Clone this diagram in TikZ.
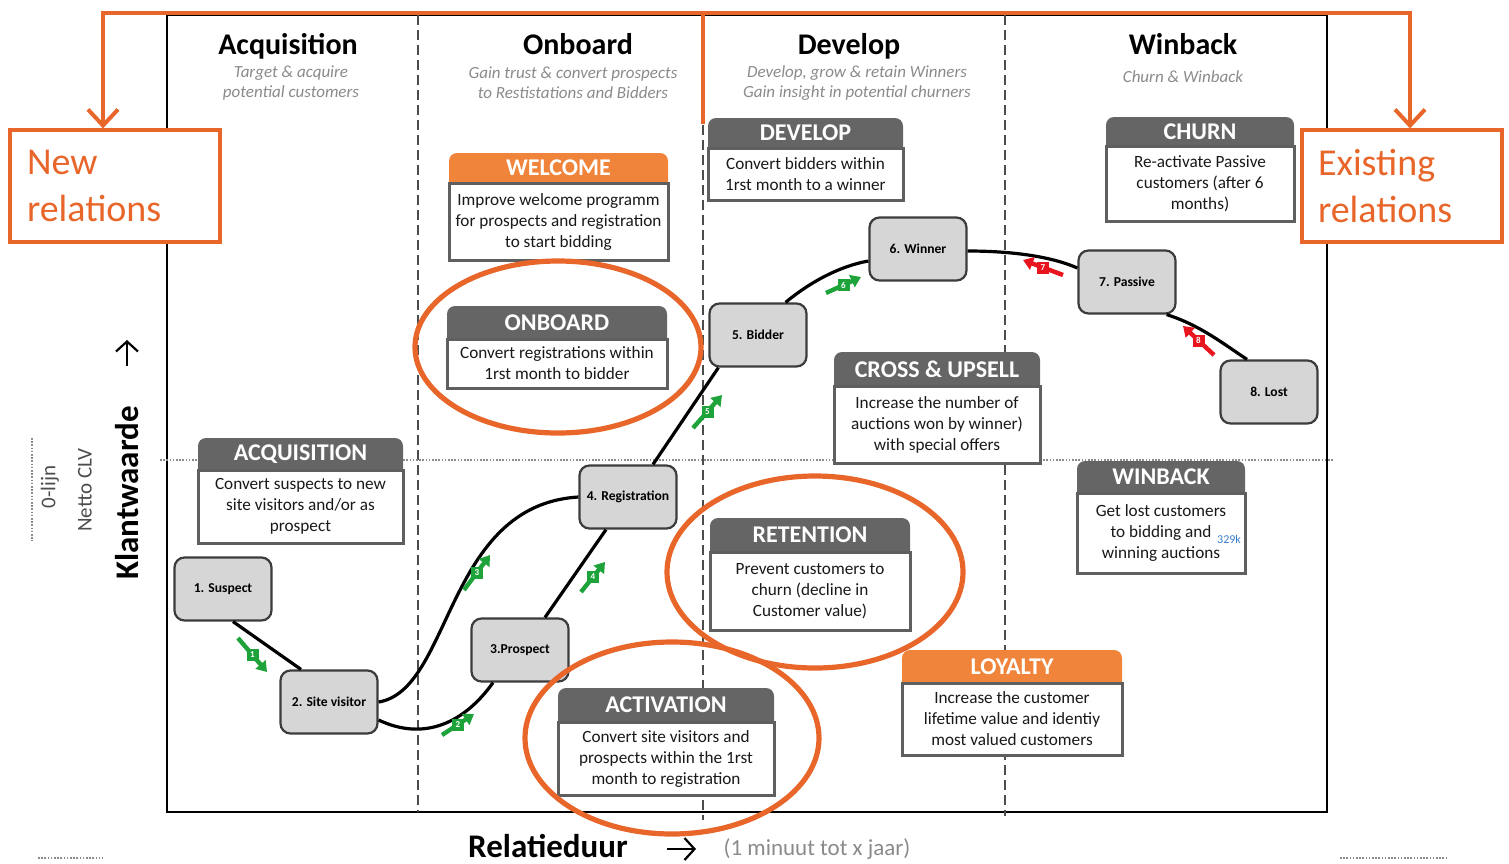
\documentclass[tikz,border=0pt]{standalone}
\usepackage{fontspec}
\setmainfont{Carlito}
\usetikzlibrary{arrows.meta,calc}

\definecolor{accent}{RGB}{232,102,42}
\definecolor{hdrorange}{RGB}{240,132,58}
\definecolor{hdrgray}{RGB}{101,101,101}
\definecolor{boxgray}{RGB}{95,95,95}
\definecolor{stagefill}{RGB}{214,214,214}
\definecolor{stageline}{RGB}{60,60,60}
\definecolor{subgray}{RGB}{138,138,138}
\definecolor{iconG}{RGB}{30,163,58}
\definecolor{iconR}{RGB}{232,20,30}
\definecolor{linkblue}{RGB}{58,127,208}

% activity box: name, x1, y-top, y-split, x2, y-bottom, header colour, title, body
\newcommand{\actbox}[9]{%
  \fill[#7, rounded corners=4pt] (#2,#3) rectangle (#5,#4+10);
  \node[hdrtxt] (#1-t) at ({(#2+#5)/2},{(#3+#4)/2}) {#8};
  \draw[bodybox] (#2,#4) rectangle (#5,#6);
  \node[bodytxt] (#1) at ({(#2+#5)/2},{(#4+#6)/2}) {#9};
}
% transition marker: name, x1, y1, x2, y2, colour, number
\newcommand{\stepmark}[7]{%
  \draw[marker, #6] (#2,#3) -- (#4,#5);
  \node[markerlab, fill=#6] (#1) at ({(#2+#4)/2},{(#3+#5)/2}) {#7};
}

\tikzset{
  frame/.style={line width=1pt, black},
  divider/.style={dash pattern=on 5pt off 2.5pt, line width=0.6pt, black!70},
  zeroline/.style={dash pattern=on 0.8pt off 0.8pt, line width=0.7pt, black!45},
  accentline/.style={draw=accent, line width=2pt},
  ring/.style={draw=accent, line width=2.6pt},
  relbox/.style={draw=accent, line width=1.6pt, fill=white, minimum width=105pt,
    minimum height=56pt, text width=88pt, align=left, inner sep=0pt,
    font=\fontsize{19}{23.5}\selectfont, text=accent},
  coltitle/.style={font=\fontsize{15}{18}\selectfont\bfseries, anchor=base},
  colsub/.style={font=\fontsize{8.5}{10}\selectfont\itshape, text=subgray, align=center},
  hdrtxt/.style={font=\fontsize{12}{14}\selectfont\bfseries, text=white, inner sep=0pt},
  bodytxt/.style={font=\fontsize{8.6}{10.5}\selectfont, align=center, text=black!90, inner sep=0pt},
  bodybox/.style={draw=boxgray, line width=1.5pt, fill=white},
  stage/.style={draw=stageline, fill=stagefill, line width=1.1pt, rounded corners=5pt,
    minimum width=48.5pt, minimum height=31.5pt,
    font=\fontsize{6.8}{8}\selectfont\bfseries, inner sep=1pt},
  curve/.style={line width=1.6pt, black},
  marker/.style={line width=2.2pt, -{Triangle[length=5pt,width=6.5pt]}},
  markerlab/.style={font=\fontsize{4.5}{5}\selectfont\bfseries, text=white,
    inner sep=0.6pt, minimum size=6pt},
  axislabel/.style={font=\fontsize{16.5}{19}\selectfont\bfseries},
  axisnote/.style={font=\fontsize{10.5}{12}\selectfont, text=black!70},
}

\begin{document}
\begin{tikzpicture}[x=0.5pt, y=-0.5pt]
\useasboundingbox (0,0) rectangle (1509,863);

% ---- chart frame, phase dividers, zero line
\draw[frame] (167,15) rectangle (1327,812);
\draw[divider] (418,15) -- (418,812);
\draw[divider] (703,125) -- (703,820);
\draw[divider] (1005,15) -- (1005,816);
\draw[zeroline] (160,460) -- (1333,460);

% ---- phase titles
\node[coltitle] (ph1) at (288,54) {Acquisition};
\node[colsub]   (ph1s) at (291,83) {Target \& acquire\\potential customers};
\node[coltitle] (ph2) at (578,54) {Onboard};
\node[colsub]   (ph2s) at (573,83) {Gain trust \& convert prospects\\to Restistations and Bidders};
\node[coltitle] (ph3) at (849,54) {Develop};
\node[colsub]   (ph3s) at (857,83) {Develop, grow \& retain Winners\\Gain insight in potential churners};
\node[coltitle] (ph4) at (1183,54) {Winback};
\node[colsub]   (ph4s) at (1183,77) {Churn \& Winback};

% ---- activity boxes
\actbox{welcome}{449}{153}{183}{668}{260}{hdrorange}{WELCOME}
  {Improve welcome programm\\for prospects and registration\\to start bidding}
\actbox{develop}{708}{118}{148}{903}{200}{hdrgray}{DEVELOP}
  {Convert bidders within\\1rst month to a winner}
\actbox{churn}{1106}{117}{146}{1294}{221}{hdrgray}{CHURN}
  {Re-activate Passive\\customers (after 6\\months)}
\actbox{onboard}{447}{306}{339}{667}{388}{hdrgray}{ONBOARD}
  {Convert registrations within\\1rst month to bidder}
\actbox{acquis}{198}{438}{470}{403}{543}{hdrgray}{ACQUISITION}
  {Convert suspects to new\\site visitors and/or as\\prospect}
\actbox{cross}{834}{352}{386}{1040}{463}{hdrgray}{CROSS \& UPSELL}
  {Increase the number of\\auctions won by winner)\\with special offers}
\actbox{winback}{1077}{461}{493}{1245}{573}{hdrgray}{WINBACK}
  {Get lost customers\\to bidding and\\winning auctions}
\node[font=\fontsize{6}{7}\selectfont, text=linkblue, inner sep=0pt] (kcount) at (1229,539) {329k};
\actbox{retention}{710}{518}{552}{910}{630}{hdrgray}{RETENTION}
  {Prevent customers to\\churn (decline in\\Customer value)}
\actbox{loyalty}{902}{650}{683}{1122}{755}{hdrorange}{LOYALTY}
  {Increase the customer\\lifetime value and identiy\\most valued customers}
\actbox{activation}{558}{688}{722}{774}{795}{hdrgray}{ACTIVATION}
  {Convert site visitors and\\prospects within the 1rst\\month to registration}

% ---- customer stages
\node[stage] (s1) at (223,589) {1. Suspect};
\node[stage] (s2) at (329,702) {2. Site visitor};
\node[stage] (s3) at (520,650) {3.Prospect};
\node[stage] (s4) at (628,497) {4. Registration};
\node[stage] (s5) at (758,335) {5. Bidder};
\node[stage] (s6) at (918,249) {6. Winner};
\node[stage] (s7) at (1127,282) {7. Passive};
\node[stage] (s8) at (1269,392) {8. Lost};

% ---- lifecycle path
\draw[curve] ($(s1.south)+(10,0)$) -- ($(s2.north)+(-28,0)$);
\draw[curve] (s2.east) .. controls (452,690) and (445,505) .. (s4.west);
\draw[curve] ($(s2.east)+(0,18)$) .. controls (425,742) and (465,722) .. ($(s3.south)+(-27,0)$);
\draw[curve] ($(s3.north)+(25,0)$) -- ($(s4.south)+(-22,0)$);
\draw[curve] ($(s4.north)+(25,0)$) -- ($(s5.south west)+(10,0)$);
\draw[curve] ($(s5.north east)+(-22,0)$) .. controls (810,282) and (840,266) .. ($(s6.west)+(0,12)$);
\draw[curve] ($(s6.east)+(0,2)$) .. controls (1010,251) and (1050,256) .. ($(s7.west)+(0,-14)$);
\draw[curve] ($(s7.south east)+(-10,0)$) .. controls (1200,325) and (1225,345) .. ($(s8.north)+(-22,0)$);

% ---- transition markers
\stepmark{m1}{238}{638}{267}{672}{iconG}{1}
\stepmark{m2}{442}{735}{474}{714}{iconG}{2}
\stepmark{m3}{464}{590}{490}{555}{iconG}{3}
\stepmark{m4}{581}{592}{605}{562}{iconG}{4}
\stepmark{m5}{693}{428}{722}{395}{iconG}{5}
\stepmark{m6}{826}{293}{861}{277}{iconG}{6}
\stepmark{m7}{1063}{275}{1023}{260}{iconR}{7}
\stepmark{m8}{1214}{355}{1183}{326}{iconR}{8}

% ---- focus rings
\draw[ring] (558,347) ellipse [x radius=143, y radius=86];
\draw[ring] (815,572) ellipse [x radius=148, y radius=96];
\draw[ring] (672,738) ellipse [x radius=147, y radius=96];

% ---- relation groups
\node[relbox] (newrel) at (115,186) {New\\relations};
\node[relbox, minimum width=100pt, text width=84pt] (existrel) at (1402,186) {Existing\\relations};
\coordinate (topL) at (103,13);
\coordinate (topM) at (703,13);
\coordinate (topR) at (1410,13);
\coordinate (devtop) at (703,124);
\draw[accentline, {Straight Barb[length=8pt,width=15pt,line width=2pt]}-{Straight Barb[length=8pt,width=15pt,line width=2pt]}]
  (topL |- newrel.north) -- (topL) -- (topR) -- (topR |- existrel.north);
\draw[accentline] (topM) -- (devtop);

% ---- axes captions
\node[axislabel, rotate=90] (yax) at (127,493) {Klantwaarde};
\coordinate (yarrA) at (127,366);
\coordinate (yarrB) at (127,340);
\draw[line width=1.1pt, -{Straight Barb[length=5pt,width=11pt]}] (yarrA) -- (yarrB);
\node[axisnote, rotate=90] (clv) at (85,490) {Netto CLV};
\node[axisnote, rotate=90] (zl) at (50,487) {0-lijn};
\coordinate (zlA) at (32,438);
\coordinate (zlB) at (32,541);
\draw[zeroline] (zlA) -- (zlB);

\node[axislabel, anchor=base, inner ysep=1pt] (xax) at (548,857) {Relatieduur};
\coordinate (xarrA) at (667,849);
\coordinate (xarrB) at (696,849);
\draw[line width=1.1pt, -{Straight Barb[length=5pt,width=11pt]}] (xarrA) -- (xarrB);
\node[font=\fontsize{11.5}{13}\selectfont, text=subgray, anchor=base, inner ysep=1pt] (xnote) at (817,855) {(1 minuut tot x jaar)};

% ---- page edge marks
\coordinate (eA) at (38,858);
\coordinate (eB) at (103,858);
\coordinate (eC) at (1340,858);
\coordinate (eD) at (1448,858);
\draw[zeroline] (eA) -- (eB);
\draw[zeroline] (eC) -- (eD);
\end{tikzpicture}
\end{document}
